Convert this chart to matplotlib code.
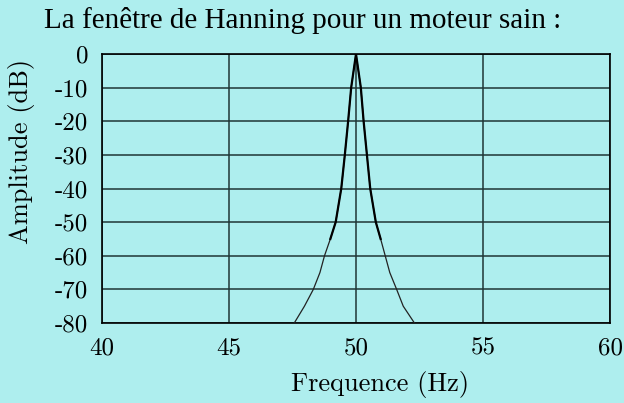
import matplotlib
matplotlib.use("Agg")
import matplotlib.pyplot as plt
import numpy as np

# Spectrum of a healthy motor seen through a Hanning window (dB vs Hz)
freq_left = [47.57, 47.97, 48.32, 48.58, 48.76, 48.99, 49.20, 49.42, 49.56, 49.69, 49.81, 50.0]
amp_left = [-80, -75, -70, -65, -60, -55, -50, -40, -30, -20, -10, 0]
freq_right = [50.0, 50.19, 50.30, 50.43, 50.56, 50.78, 50.97, 51.15, 51.33, 51.60, 51.86, 52.30]
amp_right = [0, -10, -20, -30, -40, -50, -55, -60, -65, -70, -75, -80]

x_ticks = [40, 45, 50, 55, 60]
y_ticks = [0, -10, -20, -30, -40, -50, -60, -70, -80]

title = "La fenêtre de Hanning pour un moteur sain :"
xlabel = "Frequence (Hz)"
ylabel = "Amplitude (dB)"

bg = "#AEEEEE"
W, H = 624, 403

fig = plt.figure(figsize=(W / 100, H / 100), dpi=100, facecolor=bg)
ax = fig.add_axes([102 / W, 1 - 323 / H, (610 - 102) / W, (323 - 54) / H])
ax.set_facecolor(bg)

freq = np.array(freq_left + freq_right)
amp = np.array(amp_left + amp_right)
# thin trace over the whole curve, heavier stroke on the upper part
ax.plot(freq, amp, color="#222222", lw=0.9, zorder=3)
upper = amp >= -55
ax.plot(freq[upper], amp[upper], color="black", lw=1.6, zorder=4,
        solid_joinstyle="round")

ax.set_xlim(40, 60)
ax.set_ylim(-80, 0)
ax.set_xticks(x_ticks)
ax.set_yticks(y_ticks)
ax.set_xticklabels([str(v) for v in x_ticks], fontfamily="cmr10", fontsize=18)
ax.set_yticklabels([str(v) for v in y_ticks], fontfamily="cmr10", fontsize=18)
ax.tick_params(axis="x", length=0, pad=10)
ax.tick_params(axis="y", length=0, pad=10)
ax.grid(True, color="#1f3535", lw=1.1)
for s in ax.spines.values():
    s.set_color("black")
    s.set_linewidth(1.2)

fig.text(380 / W, 1 - 385 / H, xlabel, ha="center", va="center",
         fontfamily="cmr10", fontsize=19)
fig.text(22 / W, 1 - 151 / H, ylabel, ha="center", va="center",
         rotation=90, fontfamily="cmr10", fontsize=19)
fig.text(303 / W, 1 - 21 / H, title, ha="center", va="center",
         fontfamily="Liberation Serif", fontsize=21)

fig.savefig("out.png", dpi=100, facecolor=bg)
